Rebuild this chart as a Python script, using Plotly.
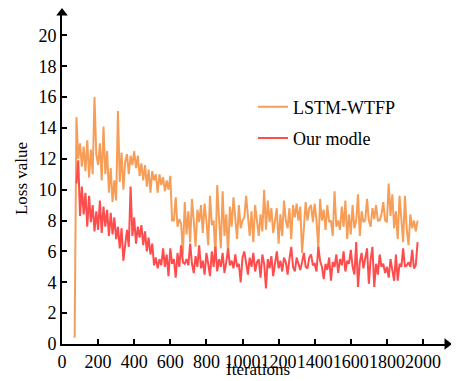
import plotly.graph_objects as go

iters_lstm = list(range(70, 1980, 10))
loss_lstm = [
    0.4, 14.7, 12.0, 13.0, 11.5, 12.8, 11.2, 13.2, 10.8, 12.6, 11.0, 16.0, 12.3, 11.6, 13.0, 10.6,
    14.1, 11.0, 12.5, 9.8, 11.4, 9.2, 10.6, 9.3, 15.1, 10.5, 12.4, 10.0, 11.8, 12.3, 11.0, 12.2,
    11.6, 12.5, 11.4, 12.2, 10.9, 11.7, 10.6, 11.6, 10.2, 11.3, 9.8, 11.2, 10.6, 11.0, 9.8, 11.0,
    10.3, 10.8, 9.9, 10.6, 10.0, 10.9, 8.0, 8.0, 9.5, 7.6, 8.1, 7.8, 5.8, 9.2, 7.1, 8.6,
    6.6, 9.4, 8.0, 6.3, 8.7, 7.9, 9.0, 7.2, 9.1, 8.0, 6.4, 9.6, 7.7, 8.0, 5.6, 10.3,
    8.1, 6.2, 9.9, 7.0, 8.4, 5.8, 8.9, 7.6, 9.5, 8.0, 6.8, 9.0, 7.5, 8.0, 8.2, 9.6,
    8.0, 7.0, 8.6, 6.6, 9.0, 7.8, 7.0, 8.4, 7.3, 10.0, 7.4, 9.3, 7.9, 8.8, 7.2, 8.0,
    8.8, 6.5, 8.4, 7.0, 9.3, 8.0, 7.5, 8.8, 6.8, 9.0, 8.2, 9.1, 8.0, 8.9, 5.9, 7.5,
    9.2, 8.0, 8.8, 9.0, 7.9, 9.1, 8.0, 6.2, 9.4, 8.0, 8.7, 7.4, 9.0, 7.9, 8.0, 7.0,
    9.9, 7.6, 8.0, 7.4, 8.9, 7.6, 9.3, 6.8, 8.4, 7.1, 9.0, 7.5, 8.0, 9.7, 7.0, 8.6,
    7.9, 8.0, 9.4, 8.0, 7.6, 8.8, 8.1, 9.0, 8.0, 8.0, 8.4, 9.2, 8.0, 7.9, 10.4, 8.3,
    9.7, 7.5, 8.6, 6.8, 9.6, 8.1, 6.6, 9.6, 7.4, 6.4, 8.4, 7.5, 8.0, 7.3, 8.0,
]

iters_ours = list(range(80, 1980, 10))
loss_ours = [
    10.4, 11.9, 8.3, 10.2, 8.4, 9.8, 7.6, 9.6, 7.9, 9.0, 7.3, 8.6, 7.4, 9.3, 7.2, 8.9,
    7.6, 8.7, 7.0, 8.5, 7.1, 8.2, 6.8, 7.6, 6.2, 7.5, 5.4, 6.6, 7.4, 6.3, 10.2, 7.0,
    8.2, 6.5, 7.6, 6.9, 7.7, 6.4, 7.3, 6.0, 6.9, 5.8, 6.5, 5.1, 5.6, 4.9, 5.5, 5.1,
    6.2, 5.0, 5.8, 4.4, 6.2, 5.2, 5.5, 4.3, 5.9, 5.0, 6.4, 5.3, 5.2, 5.5, 5.1, 6.5,
    5.2, 4.6, 5.7, 5.0, 6.4, 4.9, 5.4, 4.5, 5.9, 5.2, 4.4, 6.0, 5.0, 6.3, 4.7, 5.5,
    5.0, 5.9, 4.6, 5.3, 6.2, 5.1, 5.4, 4.9, 5.8, 5.0, 5.2, 4.0, 5.6, 6.0, 5.2, 4.5,
    5.6, 5.0, 5.9, 4.7, 5.3, 5.5, 4.3, 5.8, 5.2, 3.6, 5.5, 4.9, 5.7, 4.4, 5.2, 6.0,
    4.9, 5.4, 4.7, 5.6, 5.3, 4.5, 5.5, 6.3, 5.0, 4.7, 5.6, 5.1, 4.8, 5.3, 5.9, 5.0,
    4.9, 5.6, 5.8, 5.1, 5.2, 4.7, 6.3, 5.4, 5.0, 4.2, 5.2, 4.8, 5.6, 4.1, 5.3, 5.0,
    5.8, 4.6, 5.5, 5.1, 6.0, 4.7, 5.4, 5.2, 6.1, 5.0, 4.5, 6.6, 3.7, 5.3, 5.9, 4.9,
    5.6, 6.2, 3.9, 5.5, 6.3, 3.7, 5.2, 4.5, 5.8, 5.0, 5.2, 4.6, 5.0, 4.3, 5.5, 4.7,
    4.1, 5.8, 4.1, 5.2, 5.0, 6.2, 5.0, 5.1, 5.3, 5.0, 6.1, 4.9, 5.1, 6.6,
]

x_ticks = [0, 200, 400, 600, 800, 1000, 1200, 1400, 1600, 1800, 2000]
y_ticks = [0, 2, 4, 6, 8, 10, 12, 14, 16, 18, 20]

X_MAX = 2133
Y_MAX = 21.45
FONT = "Liberation Serif"

fig = go.Figure()
fig.add_trace(go.Scatter(x=iters_lstm, y=loss_lstm, mode="lines", name="LSTM-WTFP",
                         line=dict(color="#F69E58", width=2), legendgroup="a"))
fig.add_trace(go.Scatter(x=iters_ours, y=loss_ours, mode="lines", name="Our modle",
                         line=dict(color="#FF4C4C", width=2), legendgroup="b"))
# axis arrowheads
fig.add_trace(go.Scatter(x=[X_MAX], y=[0], mode="markers", showlegend=False, cliponaxis=False,
                         marker=dict(symbol="triangle-right", size=10, color="black"), hoverinfo="skip"))
fig.add_trace(go.Scatter(x=[0], y=[Y_MAX], mode="markers", showlegend=False, cliponaxis=False,
                         marker=dict(symbol="triangle-up", size=10, color="black"), hoverinfo="skip"))

fig.update_layout(
    width=451, height=373,
    margin=dict(l=54, r=12, t=5, b=37),
    paper_bgcolor="white", plot_bgcolor="white",
    font=dict(family=FONT, size=17, color="black"),
    showlegend=True,
    legend=dict(x=0.496, y=0.772, xanchor="left", yanchor="top", bgcolor="rgba(0,0,0,0)",
                font=dict(family=FONT, size=18), tracegroupgap=5),
    xaxis=dict(range=[0, X_MAX], tickvals=x_ticks, ticktext=[str(v) for v in x_ticks],
               tickangle=0, showgrid=False, zeroline=False, showline=True, linecolor="black",
               linewidth=2, ticks="inside", ticklen=5, tickwidth=1.5, tickcolor="black",
               automargin=False, tickfont=dict(family=FONT, size=18)),
    yaxis=dict(range=[0, Y_MAX], tickvals=y_ticks, showgrid=False, zeroline=False,
               showline=True, linecolor="black", linewidth=2, ticks="inside", ticklen=5,
               tickwidth=1.5, tickcolor="black", automargin=False,
               title=dict(text="Loss value", standoff=6, font=dict(family=FONT, size=17)),
               tickfont=dict(family=FONT, size=18)),
    annotations=[dict(text="Iterations", xref="paper", yref="paper", x=0.51, y=0,
                      xanchor="center", yanchor="bottom", yshift=-37, showarrow=False,
                      font=dict(family=FONT, size=17))],
)

fig.write_html("out.html")
